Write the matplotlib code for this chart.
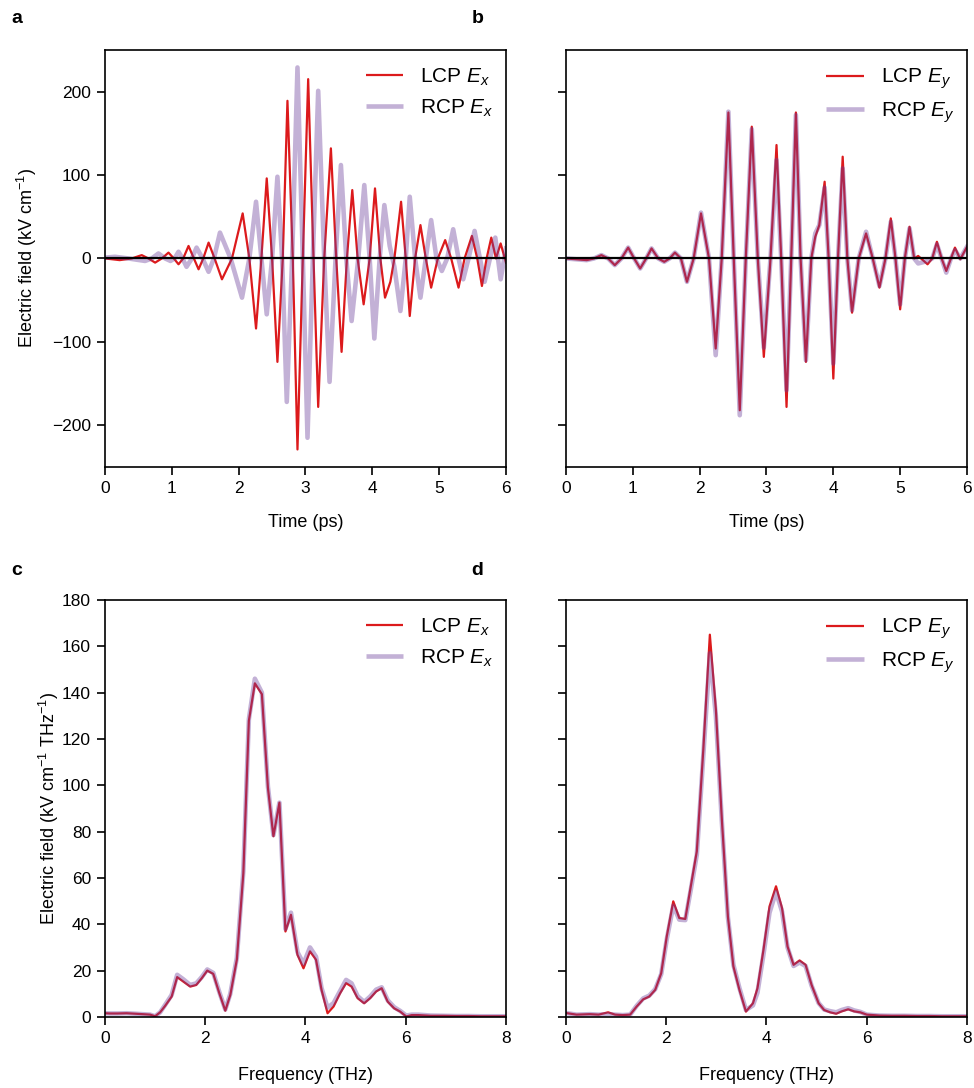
import numpy as np
import matplotlib.pyplot as plt

plt.rcParams['font.family'] = ['Liberation Sans', 'DejaVu Sans']
plt.rcParams['mathtext.fontset'] = 'custom'
plt.rcParams['mathtext.rm'] = 'Liberation Sans'
plt.rcParams['mathtext.it'] = 'Liberation Sans:italic'
plt.rcParams['font.size'] = 13

# time traces (ps, kV/cm) read at extrema / zero crossings
t_lcp_x = [0.0, 0.22, 0.4, 0.55, 0.65, 0.75, 0.85, 0.95, 1.03, 1.10, 1.17, 1.25, 1.33, 1.40, 1.47,
           1.55, 1.64, 1.75, 1.90, 2.06, 2.16, 2.26, 2.34, 2.42, 2.50, 2.58, 2.66, 2.73, 2.81, 2.88,
           2.96, 3.04, 3.12, 3.19, 3.28, 3.38, 3.46, 3.54, 3.62, 3.70, 3.78, 3.87, 3.96, 4.04, 4.12,
           4.19, 4.27, 4.33, 4.43, 4.50, 4.56, 4.64, 4.72, 4.80, 4.88, 4.98, 5.09, 5.18, 5.29, 5.38,
           5.49, 5.57, 5.64, 5.71, 5.78, 5.85, 5.92, 6.0]
e_lcp_x = [0, -2, 0, 4, 0, -5, 0, 7, 0, -7, 0, 15, 0, -13, 0,
           19, 0, -25, 0, 54, 0, -84, 0, 96, 0, -124, 0, 189, 0, -229,
           0, 215, 0, -178, 0, 132, 0, -112, 0, 82, 0, -55, 0, 84, 0,
           -47, -28, 0, 68, 0, -69, 0, 40, 0, -35, 0, 22, 0, -35, 0,
           27, 0, -33, 0, 25, 0, 18, -5]

t_rcp_x = [0.0, 0.15, 0.35, 0.6, 0.70, 0.80, 0.90, 0.98, 1.04, 1.10, 1.16, 1.22, 1.30, 1.37, 1.46,
           1.55, 1.63, 1.72, 1.88, 2.05, 2.16, 2.26, 2.34, 2.42, 2.50, 2.58, 2.65, 2.72, 2.80, 2.88,
           2.96, 3.03, 3.11, 3.19, 3.28, 3.36, 3.45, 3.53, 3.61, 3.69, 3.79, 3.88, 3.96, 4.03, 4.11,
           4.18, 4.26, 4.33, 4.42, 4.50, 4.56, 4.64, 4.72, 4.80, 4.88, 4.96, 5.04, 5.12, 5.21, 5.29,
           5.36, 5.44, 5.53, 5.61, 5.68, 5.76, 5.84, 5.92, 6.0]
e_rcp_x = [1, 2, 0, -3, 0, 6, 0, -3, 0, 8, 0, -10, 0, 13, 0,
           -16, 0, 31, 0, -47, 0, 68, 0, -67, 0, 98, 0, -172, 0, 229,
           0, -215, 0, 201, 0, -148, 0, 112, 0, -75, 0, 88, 0, -96, 0,
           64, 15, -10, -63, 0, 74, 0, -47, 0, 46, 0, -15, 0, 35, 0,
           -25, 0, 33, 0, -28, 0, 25, -25, 12]

t_lcp_y = [0.0, 0.31, 0.42, 0.53, 0.63, 0.73, 0.83, 0.93, 1.02, 1.11, 1.20, 1.28, 1.38, 1.47, 1.55,
           1.63, 1.72, 1.81, 1.91, 2.02, 2.14, 2.24, 2.33, 2.43, 2.51, 2.60, 2.69, 2.78, 2.87, 2.96,
           3.06, 3.15, 3.22, 3.30, 3.37, 3.44, 3.51, 3.59, 3.67, 3.73, 3.79, 3.87, 3.93, 4.00, 4.07,
           4.14, 4.21, 4.28, 4.38, 4.49, 4.59, 4.69, 4.78, 4.86, 4.93, 5.00, 5.07, 5.14, 5.21, 5.27,
           5.41, 5.48, 5.55, 5.62, 5.69, 5.76, 5.82, 5.90, 6.0]
e_lcp_y = [0, -2, 0, 4, 0, -8, 0, 13, 0, -12, 0, 12, 0, -4, 0,
           7, 0, -28, 0, 54, 0, -108, 0, 175, 0, -182, 0, 158, 0, -118,
           0, 136, 0, -178, 0, 175, 0, -124, 0, 26, 40, 92, 0, -144, 0,
           122, 0, -65, 0, 30, 0, -35, 0, 48, 0, -61, 0, 38, 0, 3,
           -7, 0, 20, 0, -15, 0, 13, -1, 14]

t_rcp_y = t_lcp_y
e_rcp_y = [0, -2, 0, 4, 0, -8, 0, 13, 0, -12, 0, 12, 0, -4, 0,
           7, 0, -28, 0, 55, 0, -116, 0, 176, 0, -188, 0, 155, 0, -107,
           0, 118, 0, -158, 0, 172, 0, -122, 0, 30, 40, 85, 0, -126, 0,
           108, 0, -62, 0, 32, 0, -33, 0, 44, 0, -55, 0, 36, 0, -6,
           -3, 0, 17, 0, -17, 0, 10, 0, 14]

# spectra (THz, kV/cm/THz)
f_c = [0, 0.1, 0.25, 0.43, 0.6, 0.75, 0.9, 1.0, 1.1, 1.2, 1.33, 1.44, 1.56, 1.70, 1.82, 1.93, 2.04,
       2.16, 2.28, 2.40, 2.50, 2.63, 2.76, 2.87, 2.99, 3.13, 3.25, 3.36, 3.48, 3.60, 3.71, 3.84,
       3.96, 4.09, 4.21, 4.32, 4.44, 4.56, 4.69, 4.81, 4.92, 5.04, 5.17, 5.29, 5.41, 5.52, 5.64,
       5.77, 5.89, 6.01, 6.12, 6.25, 6.5, 6.75, 7.0, 7.25, 7.5, 7.75, 8.0]
s_lcp_x = [1.6, 1.5, 1.5, 1.6, 1.4, 1.2, 1.0, 0.3, 2.0, 4.8, 8.8, 17.2, 15.3, 13.1, 13.8, 16.7, 20.0,
           18.6, 10.3, 2.7, 9.5, 24.7, 62, 127.8, 144, 139.3, 99, 78, 92.5, 36.9, 44.1, 26.8,
           21.0, 28.3, 24.7, 11.7, 1.6, 4.5, 10.2, 14.6, 13.1, 8.1, 5.9, 8.1, 11.0, 12.4, 6.6,
           3.7, 2.3, 0.2, 0.8, 0.8, 0.5, 0.5, 0.4, 0.4, 0.3, 0.3, 0.3]
s_rcp_x = [1.6, 1.5, 1.5, 1.6, 1.4, 1.2, 1.0, 0.3, 2.0, 5.2, 9.5, 18.2, 16.3, 13.8, 14.5, 17.2, 20.5,
           19.0, 10.8, 3.2, 10.0, 25.5, 63, 128.5, 146, 140, 99.5, 78.5, 92.5, 38, 45, 28,
           23, 30, 26, 12.5, 4.0, 6.0, 11.2, 16.0, 14.5, 9.0, 6.5, 8.8, 11.8, 12.8, 7.2,
           4.2, 2.6, 0.6, 1.0, 1.0, 0.6, 0.5, 0.4, 0.4, 0.3, 0.3, 0.3]

f_d = [0, 0.21, 0.48, 0.65, 0.84, 0.98, 1.13, 1.28, 1.41, 1.54, 1.66, 1.78, 1.90, 2.01, 2.14, 2.26,
       2.38, 2.49, 2.61, 2.74, 2.87, 2.99, 3.11, 3.23, 3.34, 3.46, 3.59, 3.73, 3.82, 3.94, 4.06,
       4.19, 4.31, 4.42, 4.54, 4.66, 4.78, 4.90, 5.04, 5.15, 5.27, 5.39, 5.50, 5.63, 5.75, 5.87,
       6.0, 6.25, 6.5, 6.75, 7.0, 7.25, 7.5, 7.75, 8.0]
s_lcp_y = [1.7, 1.0, 1.2, 1.0, 2.0, 1.0, 0.8, 1.0, 4.5, 7.6, 8.8, 11.7, 18.9, 34.7, 49.9, 42.7,
           42.3, 56.4, 71.5, 115.5, 165, 132.8, 85, 43.4, 21.8, 11.7, 2.3, 5.9, 12.4, 29, 47.7,
           56.4, 47, 30.4, 22.5, 24.4, 22.5, 13.8, 5.9, 3.0, 2.0, 1.4, 2.4, 3.3, 2.4, 2.0,
           1.0, 0.6, 0.5, 0.5, 0.4, 0.4, 0.3, 0.3, 0.3]
s_rcp_y = [1.7, 1.0, 1.2, 1.0, 1.2, 1.0, 0.8, 1.0, 4.8, 8.0, 9.2, 12.0, 18.5, 33.5, 48.0, 42.0,
           41.8, 55.0, 70.0, 113, 157, 130, 84, 43, 22.5, 12.5, 3.0, 5.0, 10.5, 27, 45,
           54, 45.5, 30, 22.0, 23.5, 22.0, 13.5, 6.0, 3.2, 2.5, 2.0, 3.0, 3.8, 2.8, 2.2,
           1.0, 0.6, 0.5, 0.5, 0.4, 0.4, 0.3, 0.3, 0.3]

red = '#dc1a1c'
purple = '#6a3d9a'

fig = plt.figure(figsize=(9.74, 10.88), dpi=100)
ax_a = fig.add_axes([0.1078, 0.5708, 0.4117, 0.3833])
ax_b = fig.add_axes([0.5811, 0.5708, 0.4117, 0.3833])
ax_c = fig.add_axes([0.1078, 0.0653, 0.4117, 0.3833])
ax_d = fig.add_axes([0.5811, 0.0653, 0.4117, 0.3833])


def draw(ax, x1, y1, x2, y2, comp):
    ax.plot(x1, y1, color=red, lw=1.6, label='LCP $E_%s$' % comp, zorder=2,
            solid_joinstyle='round')
    ax.plot(x2, y2, color=purple, lw=3.3, alpha=0.4, label='RCP $E_%s$' % comp, zorder=2.5,
            solid_joinstyle='round')
    leg = ax.legend(loc='upper right', bbox_to_anchor=(1.0, 0.99), frameon=False, fontsize=15,
                    handlelength=1.8, borderaxespad=0.2, labelspacing=0.45, handletextpad=0.8)
    for h in leg.legend_handles:
        h.set_solid_capstyle('butt')
    for s in ax.spines.values():
        s.set_linewidth(1.2)
    ax.tick_params(direction='out', length=6, width=1.2, labelsize=12.5, pad=4)


draw(ax_a, t_lcp_x, e_lcp_x, t_rcp_x, e_rcp_x, 'x')
draw(ax_b, t_lcp_y, e_lcp_y, t_rcp_y, e_rcp_y, 'y')
draw(ax_c, f_c, s_lcp_x, f_c, s_rcp_x, 'x')
draw(ax_d, f_d, s_lcp_y, f_d, s_rcp_y, 'y')

for ax in (ax_a, ax_b):
    ax.axhline(0, color='k', lw=1.6, zorder=3)
    ax.set_xlim(0, 6)
    ax.set_ylim(-250, 250)
    ax.set_xticks(range(7))
    ax.set_yticks([-200, -100, 0, 100, 200])
    ax.set_xlabel('Time (ps)', labelpad=13)
for ax in (ax_c, ax_d):
    ax.set_xlim(0, 8)
    ax.set_ylim(0, 180)
    ax.set_xticks([0, 2, 4, 6, 8])
    ax.set_yticks(range(0, 181, 20))
    ax.set_xlabel('Frequency (THz)', labelpad=15)

ax_b.set_yticklabels([])
ax_d.set_yticklabels([])
ax_a.set_ylabel('Electric field (kV cm$^{-1}$)', labelpad=9)
ax_c.set_ylabel('Electric field (kV cm$^{-1}$ THz$^{-1}$)', labelpad=1)

for lab, x, y in [('a', 0.012, 0.983), ('b', 0.484, 0.983), ('c', 0.012, 0.476), ('d', 0.484, 0.476)]:
    fig.text(x, y, lab, fontsize=14, fontweight='bold', va='center')

fig.savefig('out.png', dpi=100)
